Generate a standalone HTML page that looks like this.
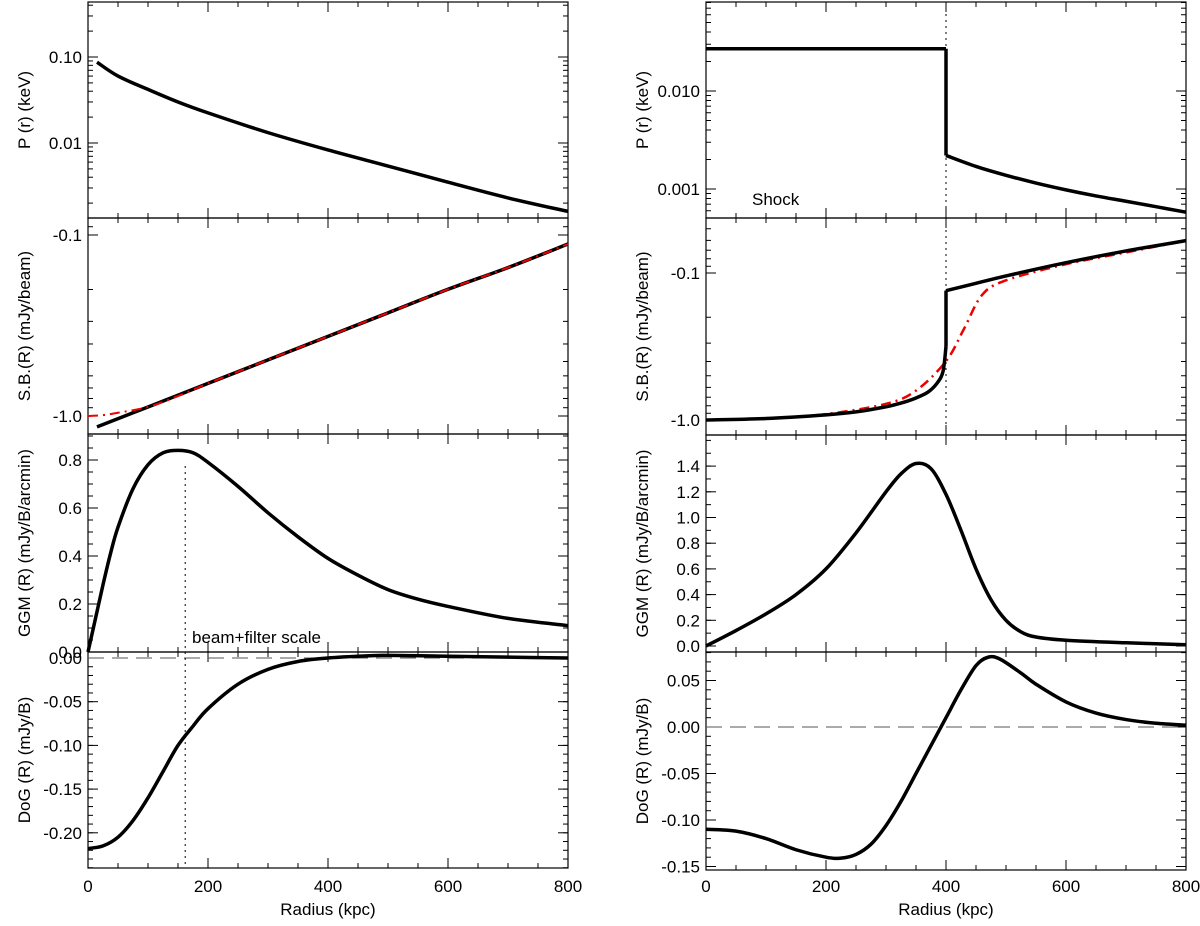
<!DOCTYPE html>
<html><head><meta charset="utf-8"><style>
body{margin:0;background:#fff;}
svg text{font-family:"Liberation Sans",sans-serif;font-size:17px;fill:#000;}
</style></head><body>
<svg id="s" width="1200" height="921" xmlns="http://www.w3.org/2000/svg"></svg>
<script>
const xTicks = [0,200,400,600,800];
// left P(r)
const lpR = [15,50,100,150,200,300,400,500,600,700,800];
const lpV = [0.087,0.060,0.042,0.030,0.0224,0.0132,0.0083,0.0054,0.0035,0.0023,0.0016];
// left SB (log10 magnitude)
const lsbR = [15,100,200,300,400,500,600,700,800];
const lsbL = [0.06,-0.05,-0.18,-0.31,-0.44,-0.57,-0.70,-0.82,-0.95];
const lsbRedR = [0,25,50,100,150,200,300,400,500,600,700,800];
const lsbRedL = [0,-0.005,-0.018,-0.05,-0.11,-0.18,-0.31,-0.44,-0.57,-0.70,-0.82,-0.95];
// left GGM
const lgR = [0,12.5,25,37.5,50,75,100,125,150,175,200,250,300,350,400,450,500,550,600,700,800];
const lgV = [0,0.14,0.28,0.41,0.52,0.68,0.78,0.83,0.84,0.83,0.79,0.69,0.58,0.48,0.39,0.32,0.26,0.22,0.19,0.14,0.11];
// left DoG
const ldR = [0,25,50,75,100,125,150,175,200,250,300,350,400,450,500,600,700,800];
const ldV = [-0.218,-0.215,-0.205,-0.186,-0.160,-0.130,-0.100,-0.078,-0.058,-0.030,-0.013,-0.004,0.0,0.002,0.003,0.002,0.001,0.0];
// right P(r)
const rpInR = [0,400];
const rpInV = [0.027,0.027];
const rpOutR = [400,450,500,550,600,650,700,750,800];
const rpOutV = [0.0022,0.0017,0.00138,0.00115,0.00098,0.00085,0.00075,0.00066,0.00058];
// right SB
const rsbInR = [0,100,200,250,300,325,350,370,385,395,400];
const rsbInL = [0,-0.01,-0.035,-0.055,-0.09,-0.115,-0.15,-0.19,-0.25,-0.33,-0.50];
const rsbOutR = [400,450,500,600,700,800];
const rsbOutL = [-0.88,-0.93,-0.98,-1.07,-1.15,-1.22];
const rsbRedR = [0,100,200,300,350,400,430,460,500,600,700,800];
const rsbRedL = [0,-0.01,-0.04,-0.11,-0.20,-0.40,-0.62,-0.85,-0.95,-1.06,-1.14,-1.22];
// right GGM
const rgR = [0,50,100,150,200,250,300,325,350,375,400,425,450,475,500,525,550,600,700,800];
const rgV = [0,0.12,0.25,0.40,0.60,0.88,1.20,1.34,1.42,1.38,1.18,0.90,0.60,0.36,0.20,0.11,0.07,0.045,0.025,0.01];
// right DoG
const rdR = [0,50,100,150,200,225,250,275,300,325,350,375,400,425,450,470,490,525,550,600,650,700,750,800];
const rdV = [-0.110,-0.112,-0.120,-0.132,-0.140,-0.141,-0.137,-0.126,-0.106,-0.080,-0.050,-0.020,0.010,0.040,0.066,0.075,0.073,0.058,0.046,0.027,0.015,0.008,0.004,0.002];

const NS="http://www.w3.org/2000/svg", S=document.getElementById('s');
function el(t,a,p){const e=document.createElementNS(NS,t);for(const k in a)e.setAttribute(k,a[k]);(p||S).appendChild(e);return e;}
function txt(x,y,s,anchor,name,rot){const e=el('text',{x:x,y:y,'text-anchor':anchor||'middle'});e.textContent=s;
 
 
 if(rot)e.setAttribute('transform','rotate(-90 '+x+' '+y+')');return e;}
function smooth(pts){let d='M'+pts[0][0]+','+pts[0][1];
 for(let i=0;i<pts.length-1;i++){const p0=pts[i-1]||pts[i],p1=pts[i],p2=pts[i+1],p3=pts[i+2]||p2;
 d+=' C'+(p1[0]+(p2[0]-p0[0])/6)+','+(p1[1]+(p2[1]-p0[1])/6)+' '+(p2[0]-(p3[0]-p1[0])/6)+','+(p2[1]-(p3[1]-p1[1])/6)+' '+p2[0]+','+p2[1];}
 return d;}
function panel(o){
 const X=r=>o.x0+(r/800)*(o.x1-o.x0);
 const Y=o.Y;
 const g=el('g',{});
 
 
 el('rect',{x:o.x0,y:o.y0,width:o.x1-o.x0,height:o.y1-o.y0,fill:'none',stroke:'#000','stroke-width':1.2},g);
 for(let r=0;r<=800;r+=50){const mj=r%200==0,L=mj?10:5;
  el('line',{x1:X(r),x2:X(r),y1:o.y1,y2:o.y1-L,stroke:'#000','stroke-width':1},g);
  el('line',{x1:X(r),x2:X(r),y1:o.y0,y2:o.y0+L,stroke:'#000','stroke-width':1},g);}
 o.minor.forEach(v=>{const y=Y(v);if(y>=o.y0&&y<=o.y1){el('line',{x1:o.x0,x2:o.x0+5,y1:y,y2:y,stroke:'#000'},g);el('line',{x1:o.x1,x2:o.x1-5,y1:y,y2:y,stroke:'#000'},g);}});
 o.major.forEach((v,i)=>{const y=Y(v);el('line',{x1:o.x0,x2:o.x0+10,y1:y,y2:y,stroke:'#000'},g);el('line',{x1:o.x1,x2:o.x1-10,y1:y,y2:y,stroke:'#000'},g);
  txt(o.x0-6,y+6,o.labels[i],'end','y-tick-label',false);});
 txt(o.x0-58,(o.y0+o.y1)/2,o.title,'middle','y-axis-title',true);
 if(o.bottom){xTicks.forEach(r=>txt(X(r),892,String(r),'middle','x-tick-label'));txt((o.x0+o.x1)/2,915,'Radius (kpc)','middle','x-axis-title');}
 (o.extra||[]).forEach(f=>f(X,Y,g));
 o.series.forEach(s=>{const pts=s.r.map((r,i)=>[X(r),Y(s.v[i])]);
  const d=s.linear?'M'+pts.map(p=>p.join(',')).join(' L'):smooth(pts);
  const p=el('path',{d:d,fill:'none',stroke:s.c,'stroke-width':s.w,'stroke-dasharray':s.dash||'none','stroke-linejoin':'round'},g);
  
  });
}
function logMinor(a,b){const m=[];for(let e=a;e<b;e++)for(let k=2;k<10;k++)m.push(k*Math.pow(10,e));return m;}
function lin(lo,hi,st){const m=[];for(let v=lo;v<=hi+1e-9;v+=st)m.push(+v.toFixed(4));return m;}
const L0=88,L1=568,R0=706,R1=1186;
panel({name:'left-pressure-panel',x0:L0,x1:L1,y0:2,y1:218,Y:v=>143-(Math.log10(v)+2)*86,major:[0.1,0.01],labels:['0.10','0.01'],minor:logMinor(-3,0),title:'P (r) (keV)',
 series:[{r:lpR,v:lpV,c:'#000',w:3.5,name:'pressure-curve'}]});
panel({name:'left-sb-panel',x0:L0,x1:L1,y0:218,y1:434,Y:l=>416+l*181,major:[-1,0],labels:['-0.1','-1.0'],minor:logMinor(-2,1).map(Math.log10),title:'S.B.(R) (mJy/beam)',
 series:[{r:lsbR,v:lsbL,c:'#000',w:3.5,name:'sb-curve'},{r:lsbRedR,v:lsbRedL,c:'#e00',w:2,dash:'10,5,2,5',name:'sb-model-red'}]});
panel({name:'left-ggm-panel',x0:L0,x1:L1,y0:434,y1:652,Y:v=>652-v*240,major:[0,0.2,0.4,0.6,0.8],labels:['0.0','0.2','0.4','0.6','0.8'],minor:lin(0,0.9,0.05),title:'GGM (R) (mJy/B/arcmin)',
 extra:[(X,Y,g)=>el('line',{x1:X(162),x2:X(162),y1:466,y2:652,stroke:'#000','stroke-dasharray':'2,4'},g),(X)=>txt(192,643,'beam+filter scale','start','beam-filter-scale-label')],
 series:[{r:lgR,v:lgV,c:'#000',w:3.5,name:'ggm-curve'}]});
panel({name:'left-dog-panel',x0:L0,x1:L1,y0:652,y1:868,bottom:true,Y:v=>658-v*874,major:[0,-0.05,-0.1,-0.15,-0.2],labels:['0.00','-0.05','-0.10','-0.15','-0.20'],minor:lin(-0.24,0,0.01),title:'DoG (R) (mJy/B)',
 extra:[(X,Y,g)=>el('line',{x1:X(0),x2:X(800),y1:Y(0),y2:Y(0),stroke:'#555','stroke-dasharray':'16,8'},g),(X,Y,g)=>el('line',{x1:X(162),x2:X(162),y1:652,y2:868,stroke:'#000','stroke-dasharray':'2,4'},g)],
 series:[{r:ldR,v:ldV,c:'#000',w:3.5,name:'dog-curve'}]});
panel({name:'right-pressure-panel',x0:R0,x1:R1,y0:2,y1:218,Y:v=>91-(Math.log10(v)+2)*98,major:[0.01,0.001],labels:['0.010','0.001'],minor:logMinor(-4,-1),title:'P (r) (keV)',
 extra:[(X,Y,g)=>el('line',{x1:X(400),x2:X(400),y1:2,y2:434,stroke:'#000','stroke-dasharray':'2,4'},g),()=>txt(752,205,'Shock','start','shock-label')],
 series:[{r:rpInR,v:rpInV,c:'#000',w:3.5,linear:true,name:'pressure-inner'},
   {r:[rpInR[1],rpOutR[0]],v:[rpInV[1],rpOutV[0]],c:'#000',w:3.5,linear:true,name:'pressure-jump'},
   {r:rpOutR,v:rpOutV,c:'#000',w:3.5,name:'pressure-outer'}]});
panel({name:'right-sb-panel',x0:R0,x1:R1,y0:218,y1:435,Y:l=>420+l*147,major:[-1,0],labels:['-0.1','-1.0'],minor:logMinor(-2,1).map(Math.log10),title:'S.B.(R) (mJy/beam)',
 series:[{r:rsbRedR,v:rsbRedL,c:'#e00',w:2.5,dash:'10,5,2,5',name:'sb-model-red'},
   {r:rsbInR,v:rsbInL,c:'#000',w:3.5,name:'sb-inner'},
   {r:[rsbInR[rsbInR.length-1],rsbOutR[0]],v:[rsbInL[rsbInL.length-1],rsbOutL[0]],c:'#000',w:3.5,linear:true,name:'sb-jump'},
   {r:rsbOutR,v:rsbOutL,c:'#000',w:3.5,name:'sb-outer'}]});
panel({name:'right-ggm-panel',x0:R0,x1:R1,y0:435,y1:652,Y:v=>646-v*128.5,major:[0,0.2,0.4,0.6,0.8,1.0,1.2,1.4],labels:['0.0','0.2','0.4','0.6','0.8','1.0','1.2','1.4'],minor:lin(0,1.6,0.1),title:'GGM (R) (mJy/B/arcmin)',
 series:[{r:rgR,v:rgV,c:'#000',w:3.5,name:'ggm-curve'}]});
panel({name:'right-dog-panel',x0:R0,x1:R1,y0:652,y1:870,bottom:true,Y:v=>727-v*930,major:[0.05,0,-0.05,-0.1,-0.15],labels:['0.05','0.00','-0.05','-0.10','-0.15'],minor:lin(-0.15,0.08,0.01),title:'DoG (R) (mJy/B)',
 extra:[(X,Y,g)=>el('line',{x1:X(0),x2:X(800),y1:Y(0),y2:Y(0),stroke:'#555','stroke-dasharray':'16,8'},g)],
 series:[{r:rdR,v:rdV,c:'#000',w:3.5,name:'dog-curve'}]});
</script>
</body></html>
